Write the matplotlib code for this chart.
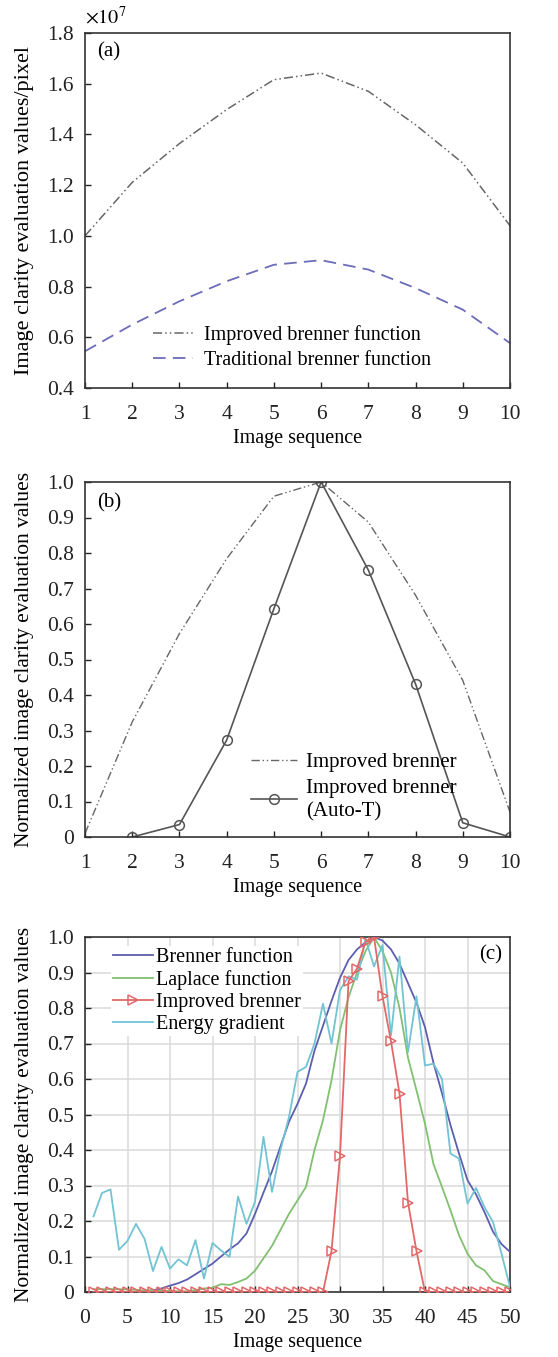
import matplotlib
matplotlib.use("Agg")
import matplotlib.pyplot as plt
import numpy as np
from matplotlib.ticker import MultipleLocator, FuncFormatter

plt.rcParams['font.family'] = ['Liberation Serif', 'DejaVu Serif']
plt.rcParams['mathtext.fontset'] = 'stix'
plt.rcParams['font.size'] = 15

# (a) raw clarity values, units of 1e7
seq10 = np.arange(1, 11)
improved_a = [1.00, 1.211, 1.364, 1.498, 1.616, 1.642, 1.570, 1.438, 1.287, 1.040]
traditional_a = [0.545, 0.650, 0.742, 0.821, 0.886, 0.904, 0.867, 0.794, 0.709, 0.577]

# (b) normalized
improved_b = [0.01, 0.324, 0.573, 0.784, 0.960, 1.0, 0.887, 0.681, 0.441, 0.07]
autot_x = np.arange(2, 11)
autot_b = [0.0, 0.035, 0.273, 0.643, 1.0, 0.752, 0.431, 0.04, 0.0]

# (c) normalized, 50 images
seq50 = np.arange(1, 51)
brenner_c = [0.0, 0.0, 0.0, 0.0, 0.0, 0.0, 0.002, 0.005, 0.01, 0.018,
             0.025, 0.035, 0.05, 0.065, 0.08, 0.10, 0.12, 0.137, 0.165, 0.22,
             0.28, 0.34, 0.41, 0.48, 0.53, 0.587, 0.68, 0.75, 0.82, 0.885,
             0.935, 0.965, 0.985, 1.0, 0.99, 0.965, 0.925, 0.87, 0.815, 0.746,
             0.645, 0.56, 0.47, 0.39, 0.315, 0.275, 0.225, 0.17, 0.135, 0.113]
laplace_c = [0.008, 0.008, 0.008, 0.008, 0.007, 0.006, 0.005, 0.004, 0.003, 0.003,
             0.002, 0.002, 0.005, 0.01, 0.012, 0.022, 0.02, 0.028, 0.038, 0.06,
             0.095, 0.13, 0.175, 0.22, 0.258, 0.296, 0.40, 0.484, 0.596, 0.737,
             0.83, 0.90, 0.96, 1.0, 0.96, 0.90, 0.80, 0.66, 0.568, 0.474,
             0.36, 0.296, 0.23, 0.16, 0.108, 0.075, 0.061, 0.031, 0.022, 0.013]
improved_c = [0.0] * 28 + [0.115, 0.383, 0.875, 0.911, 0.986, 1.0, 0.833, 0.706,
                           0.559, 0.252, 0.115] + [0.0] * 11
energy_c = [0.213, 0.279, 0.289, 0.119, 0.144, 0.192, 0.150, 0.059, 0.127, 0.066,
            0.092, 0.075, 0.146, 0.038, 0.138, 0.117, 0.099, 0.269, 0.192, 0.254,
            0.437, 0.282, 0.40, 0.493, 0.62, 0.634, 0.70, 0.812, 0.70, 0.85,
            0.889, 0.88, 0.995, 0.917, 0.977, 0.723, 0.945, 0.676, 0.833, 0.638,
            0.643, 0.60, 0.39, 0.376, 0.249, 0.293, 0.239, 0.197, 0.108, 0.014]

fig = plt.figure(figsize=(5.58, 13.57), dpi=100)
W, H = 558, 1357
left, width = 85 / W, 425 / W
axh = 355 / H
ax1 = fig.add_axes([left, 1 - 388 / H, width, axh])
ax2 = fig.add_axes([left, 1 - 837 / H, width, axh])
ax3 = fig.add_axes([left, 1 - 1292 / H, width, axh])

spine_c = '#333333'
for ax in (ax1, ax2, ax3):
    for s in ax.spines.values():
        s.set_color(spine_c)
        s.set_linewidth(1.2)
    ax.tick_params(direction='in', length=4, width=1, colors='#222222', labelsize=15.5)
    ax.tick_params(axis='x', pad=12)
    ax.tick_params(axis='y', pad=8)
    ax.set_xlabel('Image sequence', fontsize=14.5, labelpad=4)

# (a)
ax1.plot(seq10, np.array(improved_a) * 1e7, color='#666666', lw=1.1,
         dashes=[6, 2, 1, 2, 1, 2], label='Improved brenner function')
ax1.plot(seq10, np.array(traditional_a) * 1e7, color='#6c6cb8', lw=1.3,
         dashes=[7, 4], label='Traditional brenner function')
ax1.set_xlim(1, 10)
ax1.set_ylim(0.4e7, 1.8e7)
ax1.xaxis.set_major_locator(MultipleLocator(1))
ax1.yaxis.set_major_locator(MultipleLocator(0.2e7))
ax1.yaxis.set_major_formatter(FuncFormatter(lambda v, p: f'{v / 1e7:.1f}'))
ax1.text(0.0, 1.012, r'$\times10^{7}$', transform=ax1.transAxes, fontsize=14.5,
         ha='left', va='bottom')
ax1.set_ylabel('Image clarity evaluation values/pixel', fontsize=16, labelpad=9)
ax1.text(0.028, 0.946, '(a)', transform=ax1.transAxes, fontsize=15, va='center')
ax1.legend(loc='lower left', bbox_to_anchor=(0.16, 0.05), frameon=False,
           fontsize=14.5, handlelength=2.0, handletextpad=0.55, labelspacing=0.3,
           borderaxespad=0, borderpad=0)

# (b)
ax2.plot(seq10, improved_b, color='#666666', lw=1.0,
         dashes=[6, 2, 1, 2, 1, 2], label='Improved brenner')
ax2.plot(autot_x, autot_b, color='#555555', lw=1.2, marker='o', ms=7,
         mfc='none', mec='#555555', mew=1.1, label='Improved brenner\n(Auto-T)')
ax2.set_xlim(1, 10)
ax2.set_ylim(0, 1.0)
ax2.xaxis.set_major_locator(MultipleLocator(1))
ax2.yaxis.set_major_locator(MultipleLocator(0.1))
yfmt = FuncFormatter(lambda v, p: '0' if abs(v) < 1e-9 else f'{v:.1f}')
ax2.yaxis.set_major_formatter(yfmt)
ax2.set_ylabel('Normalized image clarity evaluation values', fontsize=15.5, labelpad=9)
ax2.text(0.028, 0.94, '(b)', transform=ax2.transAxes, fontsize=15, va='center')
leg2 = ax2.legend(loc='lower left', bbox_to_anchor=(0.39, 0.045), frameon=False,
                  fontsize=15, handlelength=2.2, handletextpad=0.45, labelspacing=0.3,
                  borderaxespad=0, borderpad=0)
for t in leg2.get_texts():
    t.set_linespacing(1.3)

# (c)
ax3.grid(True, color='#dadada', lw=1.1)
ax3.set_axisbelow(True)
ax3.plot(seq50, brenner_c, color='#5b5fae', lw=1.3, label='Brenner function', zorder=3)
ax3.plot(seq50, laplace_c, color='#80c070', lw=1.3, label='Laplace function', zorder=3)
ax3.plot(seq50, improved_c, color='#e36868', lw=1.3, marker='>', ms=7,
         mfc='none', mec='#e36868', mew=1.1, label='Improved brenner', zorder=4)
ax3.plot(seq50, energy_c, color='#72c3d3', lw=1.3, label='Energy gradient', zorder=3)
ax3.set_xlim(0, 50)
ax3.set_ylim(0, 1.0)
ax3.xaxis.set_major_locator(MultipleLocator(5))
ax3.yaxis.set_major_locator(MultipleLocator(0.1))
ax3.yaxis.set_major_formatter(yfmt)
ax3.set_ylabel('Normalized image clarity evaluation values', fontsize=15.5, labelpad=9)
ax3.text(0.981, 0.949, '(c)', transform=ax3.transAxes, fontsize=15, va='center', ha='right')
leg = ax3.legend(loc='upper left', bbox_to_anchor=(0.06, 0.975), frameon=True,
                 fontsize=14.5, handlelength=2.0, handletextpad=0.15, labelspacing=0.15,
                 borderaxespad=0, borderpad=0.1, fancybox=False)
leg.get_frame().set_edgecolor('none')
leg.get_frame().set_facecolor('white')
leg.get_frame().set_alpha(1)

fig.savefig('out.png', dpi=100)
